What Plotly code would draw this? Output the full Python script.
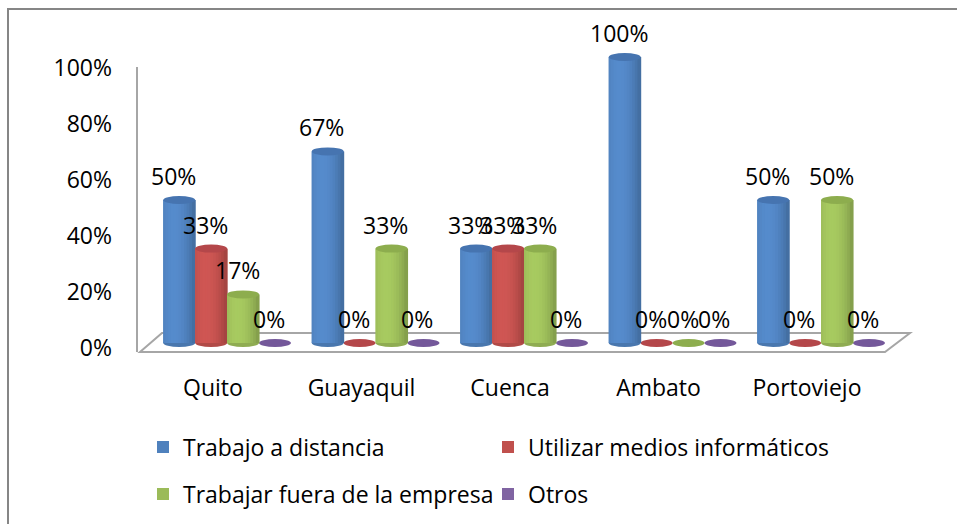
import plotly.graph_objects as go

categories = ["Quito", "Guayaquil", "Cuenca", "Ambato", "Portoviejo"]
series_names = ["Trabajo a distancia", "Utilizar medios informáticos",
                "Trabajar fuera de la empresa", "Otros"]
trabajo_distancia = [50, 67, 33, 100, 50]
medios_informaticos = [33, 0, 33, 0, 0]
fuera_empresa = [17, 33, 33, 0, 50]
otros = [0, 0, 0, 0, 0]
y_ticks = [0, 20, 40, 60, 80, 100]

series_values = [trabajo_distancia, medios_informaticos, fuera_empresa, otros]
colors = ["#4F81BD", "#C0504D", "#9BBB59", "#8064A2"]
top_colors = ["#4674B0", "#B4474A", "#8DAD4E", "#74589A"]

W, H = 957, 524
FONT = "Open Sans"
FS = 23

# pixel geometry of the plotting area
L, R, T, B = 130, 918, 48, 356
XS = 148.5           # px per category
X_AT = (-0.6, 138)   # x=-0.6 sits at px 138
YS = 2.86            # px per percent (bars, back plane)
Y0PX = 343           # px of 0% (bars, back plane)
YS2 = 2.8            # px per percent (front plane, axis labels)
Y0PX2 = 348
x_lo = X_AT[0] - (X_AT[1] - L) / XS
x_hi = x_lo + (R - L) / XS
y_lo = -(B - Y0PX) / YS
y_hi = y_lo + (B - T) / YS
y2_lo = -(B - Y0PX2) / YS2
y2_hi = y2_lo + (B - T) / YS2

bw = 0.215
xs = list(range(len(categories)))
NSL = 12  # shading slices per cylinder

fig = go.Figure()
shapes = []
annotations = []


def ydata(px):
    return (Y0PX - px) / YS


def xdata(px):
    return X_AT[0] + (px - X_AT[1]) / XS


def shade(hexcol, m):
    h = hexcol.lstrip("#")
    r, g, b = (int(h[k:k + 2], 16) for k in (0, 2, 4))
    r, g, b = (max(0, min(255, int(round(c * m)))) for c in (r, g, b))
    return f"rgb({r},{g},{b})"


# floor and back-left edge
fx = [xdata(140), xdata(885), xdata(910), xdata(162)]
fy = [ydata(352), ydata(352), ydata(333), ydata(333)]
shapes.append(dict(type="path", xref="x", yref="y", layer="below",
                   path=f"M{fx[0]},{fy[0]} L{fx[1]},{fy[1]} L{fx[2]},{fy[2]} L{fx[3]},{fy[3]} Z",
                   line=dict(color="#A6A6A6", width=2), fillcolor="white"))
shapes.append(dict(type="line", xref="x", yref="y", layer="below",
                   x0=xdata(137), x1=xdata(137), y0=ydata(352), y1=ydata(67),
                   line=dict(color="#A6A6A6", width=2)))

eh = 8 / YS  # ellipse height in data units
for i, (name, vals) in enumerate(zip(series_names, series_values)):
    off = (i - 2) * bw
    fig.add_trace(go.Bar(
        x=xs, y=vals, name=name, width=bw, offset=off,
        marker=dict(color=colors[i], line=dict(width=0)),
        legend="legend" if i < 2 else "legend2",
    ))
    # cylinder shading slices
    sw = bw / NSL
    for k in range(NSL):
        t = (k + 0.5) / NSL
        m = 1.08 - 0.6 * (t - 0.35) ** 2
        fig.add_trace(go.Bar(
            x=xs, y=vals, width=sw * 1.4, offset=off + k * sw - (0.2 * sw if k else 0),
            marker=dict(color=shade(colors[i], m), line=dict(width=0)),
            showlegend=False, hoverinfo="skip",
        ))
    for xc, v in zip(xs, vals):
        cx0, cx1 = xc + off, xc + off + bw
        shapes.append(dict(type="circle", xref="x", yref="y", layer="below",
                           x0=cx0, x1=cx1, y0=-eh / 2, y1=eh / 2,
                           fillcolor=top_colors[i] if v == 0 else shade(colors[i], 0.92),
                           line=dict(width=0)))
        if v > 0:
            shapes.append(dict(type="circle", xref="x", yref="y", layer="above",
                               x0=cx0, x1=cx1, y0=v - eh / 2, y1=v + eh / 2,
                               fillcolor=top_colors[i], line=dict(width=0)))
        annotations.append(dict(x=xc + off + bw / 2, y=v, xref="x", yref="y",
                                text=f"{v}%", showarrow=False, xshift=-6, yshift=24,
                                yanchor="middle", xanchor="center",
                                font=dict(family=FONT, size=FS, color="black")))

# invisible trace carrying the front-plane percentage axis
fig.add_trace(go.Scatter(x=xs, y=[None] * len(xs), yaxis="y2", showlegend=False,
                         hoverinfo="skip", mode="markers"))


def px_to_paper_x(px):
    return (px - L) / (R - L)


def px_to_paper_y(py):
    return (B - py) / (B - T)


# outer border (only left and top edges fall inside the picture)
bx0, bx1 = px_to_paper_x(8), px_to_paper_x(990)
by0, by1 = px_to_paper_y(560), px_to_paper_y(9)
shapes.append(dict(type="path", xref="paper", yref="paper",
                   path=f"M{bx0},{by0} L{bx0},{by1} L{bx1},{by1}",
                   line=dict(color="#868686", width=2)))

legend_common = dict(orientation="h", xref="container", yref="container",
                     xanchor="left", yanchor="middle", entrywidth=300, entrywidthmode="pixels",
                     font=dict(family=FONT, size=FS, color="black"), bgcolor="rgba(0,0,0,0)",
                     traceorder="normal", itemwidth=30)

fig.update_layout(
    width=W, height=H, autosize=False,
    margin=dict(l=L, r=W - R, t=T, b=H - B, autoexpand=False),
    paper_bgcolor="white", plot_bgcolor="rgba(0,0,0,0)",
    barmode="overlay",
    font=dict(family=FONT, size=FS, color="black"),
    shapes=shapes, annotations=annotations,
    xaxis=dict(range=[x_lo, x_hi], tickvals=[x - 0.095 for x in xs], ticktext=categories,
               showgrid=False, zeroline=False, showline=False, ticks="", automargin=False,
               ticklabelstandoff=16, tickfont=dict(family=FONT, size=FS, color="black")),
    yaxis=dict(range=[y_lo, y_hi], showticklabels=False,
               showgrid=False, zeroline=False, showline=False, ticks="", automargin=False),
    yaxis2=dict(range=[y2_lo, y2_hi], overlaying="y", side="left", anchor="x",
                tickvals=y_ticks, ticktext=[f"{t}%" for t in y_ticks],
                showgrid=False, zeroline=False, showline=False, ticks="", automargin=False,
                ticklabelstandoff=17, tickfont=dict(family=FONT, size=FS, color="black")),
    legend=dict(x=143 / W, y=1 - 447 / H, **legend_common),
    legend2=dict(x=143 / W, y=1 - 494 / H, **legend_common),
)

fig.write_html(
    "out.html", config={"displayModeBar": False},
    post_script=("document.documentElement.style.overflow='hidden';"
                 "document.documentElement.style.background='white';"
                 "document.body.style.margin='0';document.body.style.overflow='hidden';"))
